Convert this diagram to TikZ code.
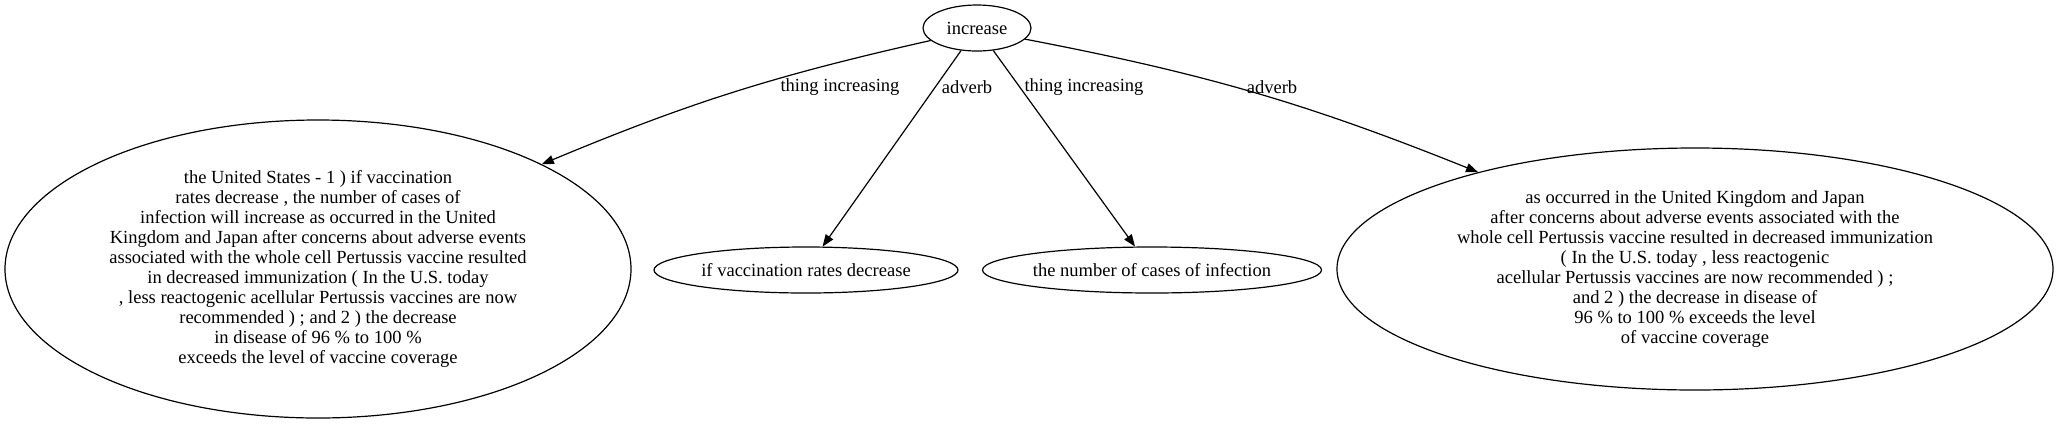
\documentclass[tikz,border=0pt]{standalone}
\usepackage{fontspec}
\setmainfont{Liberation Serif}
\usetikzlibrary{arrows.meta,shapes.geometric}

\begin{document}
\begin{tikzpicture}[
  x=1bp, y=1bp,
  concept/.style={draw, ellipse, line width=1.2bp, inner sep=0pt, align=center,
                  font=\fontsize{18.6}{20}\selectfont},
  rel/.style={font=\fontsize{18.6}{20}\selectfont, inner sep=0pt},
  link/.style={draw, line width=1.2bp, -{Triangle[length=12bp,width=9bp]}}
]
\useasboundingbox[fill=white] (0,0) rectangle (2060,-425);

\node[concept, minimum width=108bp, minimum height=46bp] (inc) at (977,-28) {increase};

\node[concept, minimum width=626bp, minimum height=298bp] (whole) at (318,-269)
  {the United States - 1 ) if vaccination\\
   rates decrease , the number of cases of\\
   infection will increase as occurred in the United\\
   Kingdom and Japan after concerns about adverse events\\
   associated with the whole cell Pertussis vaccine resulted\\
   in decreased immunization ( In the U.S. today\\
   , less reactogenic acellular Pertussis vaccines are now\\
   recommended ) ; and 2 ) the decrease\\
   in disease of 96 \% to 100 \%\\
   exceeds the level of vaccine coverage};
\node[concept, minimum width=304bp, minimum height=46bp] (ifvacc) at (806,-270) {if vaccination rates decrease};
\node[concept, minimum width=339bp, minimum height=46bp] (cases) at (1152,-270) {the number of cases of infection};
\node[concept, minimum width=716bp, minimum height=242bp] (asocc) at (1695,-269)
  {as occurred in the United Kingdom and Japan\\
   after concerns about adverse events associated with the\\
   whole cell Pertussis vaccine resulted in decreased immunization\\
   ( In the U.S. today , less reactogenic\\
   acellular Pertussis vaccines are now recommended ) ;\\
   and 2 ) the decrease in disease of\\
   96 \% to 100 \% exceeds the level\\
   of vaccine coverage};

% edges
\draw[link] (inc) to[bend right=5] (whole);
\draw[link] (inc) -- (ifvacc);
\draw[link] (inc) -- (cases);
\draw[link] (inc) to[bend left=5.5] (asocc);

\node[rel] (r1) at (840,-87)  {thing increasing};
\node[rel] (r2) at (967,-87)  {adverb};
\node[rel] (r3) at (1084,-87) {thing increasing};
\node[rel] (r4) at (1272,-87) {adverb};

\end{tikzpicture}
\end{document}
